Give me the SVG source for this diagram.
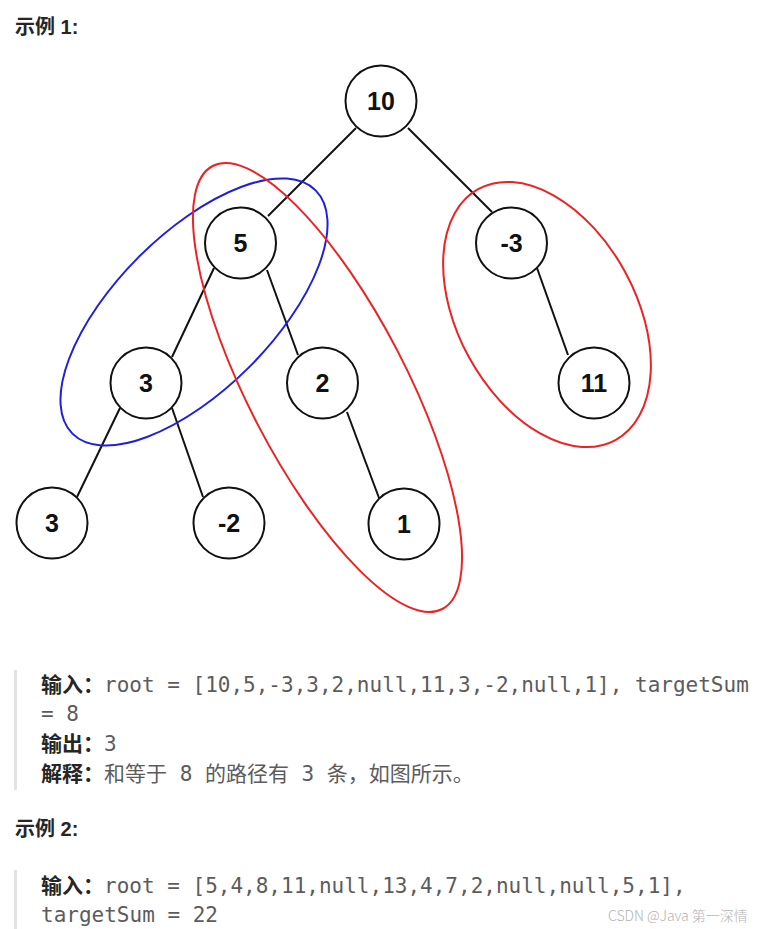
<svg xmlns="http://www.w3.org/2000/svg" width="760" height="929" viewBox="0 0 760 929">
<style>
.node circle{fill:#fff;stroke:#111;stroke-width:2}
.node text{font-family:"Liberation Sans",Arial,sans-serif;font-weight:bold;font-size:25px;fill:#111;text-anchor:middle}
.edges line{stroke:#111;stroke-width:2}
.hl{fill:none;stroke-width:2}
.h{font-family:"Liberation Sans","Noto Sans CJK SC",sans-serif;font-weight:bold;font-size:20px;fill:#262626}
.t{font-family:"DejaVu Sans Mono","Noto Sans CJK SC",monospace;font-size:21px;fill:#5c5c5c}
.b{font-family:"Noto Sans CJK SC",sans-serif;font-weight:bold;fill:#262626}
.bar{fill:#e3e3e3}
.wm{font-family:"Noto Sans CJK SC",sans-serif;font-weight:300;font-size:14px;fill:#b4b4b4}
</style>
<rect width="760" height="929" fill="#fff"/>
<text class="h" x="15" y="34">示例 1:</text>
<g class="edges">
<line x1="356" y1="128" x2="268" y2="216"/>
<line x1="408" y1="128" x2="492" y2="212"/>
<line x1="214" y1="268" x2="172" y2="357"/>
<line x1="267" y1="270" x2="298" y2="355"/>
<line x1="537" y1="268" x2="568" y2="355"/>
<line x1="120" y1="408" x2="77" y2="497"/>
<line x1="172" y1="408" x2="203" y2="497"/>
<line x1="347" y1="412" x2="379" y2="498"/>
</g>
<g id="n10" class="node"><circle cx="381" cy="101" r="35.5"/><text x="381" y="110">10</text></g>
<g id="n5" class="node"><circle cx="240.5" cy="243" r="35.5"/><text x="240.5" y="252">5</text></g>
<g id="nm3" class="node"><circle cx="511.5" cy="243" r="35.5"/><text x="511.5" y="252">-3</text></g>
<g id="n3a" class="node"><circle cx="146" cy="383" r="35.5"/><text x="146" y="392">3</text></g>
<g id="n2" class="node"><circle cx="322.5" cy="383" r="35.5"/><text x="322.5" y="392">2</text></g>
<g id="n11" class="node"><circle cx="594" cy="383" r="35.5"/><text x="594" y="392">11</text></g>
<g id="n3b" class="node"><circle cx="52" cy="523" r="35.5"/><text x="52" y="532">3</text></g>
<g id="nm2" class="node"><circle cx="229" cy="523" r="35.5"/><text x="229" y="532">-2</text></g>
<g id="n1" class="node"><circle cx="404" cy="524" r="35.5"/><text x="404" y="533">1</text></g>
<g id="highlights">
<ellipse class="hl" stroke="#1f1fe0" cx="194" cy="312" rx="172" ry="78" transform="rotate(-45 194 312)"/>
<ellipse class="hl" stroke="#ee2222" cx="327.5" cy="387.5" rx="249.5" ry="79" transform="rotate(62.6 327.5 387.5)"/>
<ellipse class="hl" stroke="#ee2222" cx="547" cy="314.5" rx="143" ry="89" transform="rotate(61.4 547 314.5)"/>
</g>
<rect class="bar" x="14" y="670" width="3" height="120"/>
<text class="t" x="41" y="692"><tspan class="b">输入：</tspan>root = [10,5,-3,3,2,null,11,3,-2,null,1], targetSum</text>
<text class="t" x="41" y="721">= 8</text>
<text class="t" x="41" y="751"><tspan class="b">输出：</tspan>3</text>
<text class="t" x="41" y="781"><tspan class="b">解释：</tspan>和等于 8 的路径有 3 条，如图所示。</text>
<text class="h" x="15" y="836">示例 2:</text>
<rect class="bar" x="14" y="870" width="3" height="59"/>
<text class="t" x="41" y="893"><tspan class="b">输入：</tspan>root = [5,4,8,11,null,13,4,7,2,null,null,5,1],</text>
<text class="t" x="41" y="922">targetSum = 22</text>
<text class="wm" x="608" y="921">CSDN @Java 第一深情</text>
</svg>
